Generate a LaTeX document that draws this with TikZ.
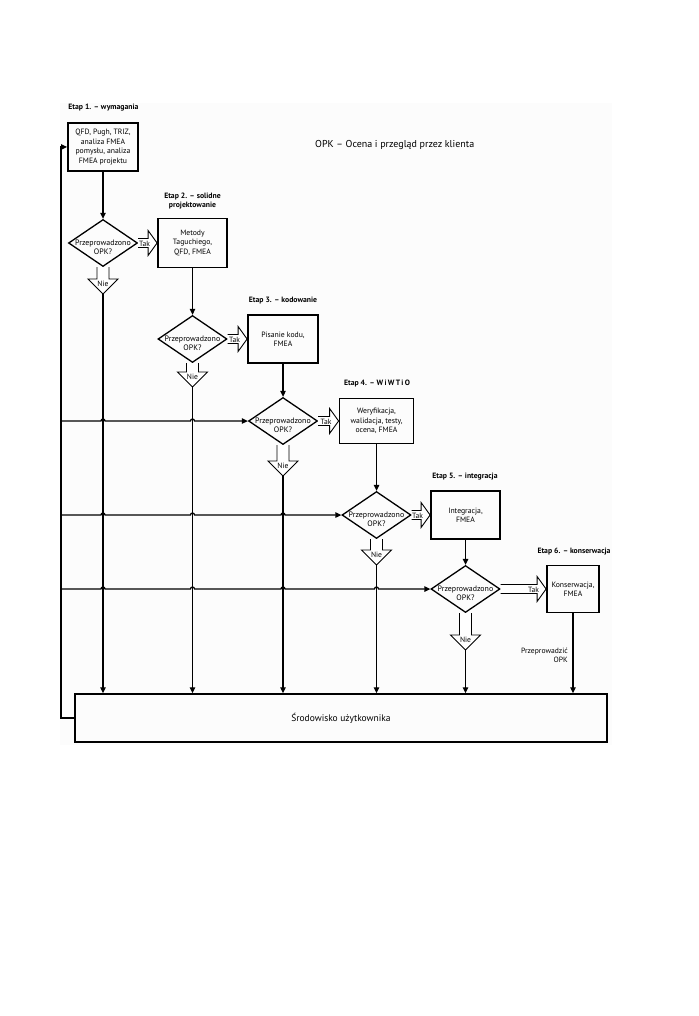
\documentclass[tikz,border=0pt]{standalone}
\usepackage{fontspec}
\setmainfont{PT Sans}
\usetikzlibrary{shapes.geometric,arrows.meta,calc}
\begin{document}
\begin{tikzpicture}[x=1pt,y=-1pt,
  box/.style={draw,line width=1.8pt,inner sep=0pt,align=center,font=\fontsize{7.7}{9.4}\selectfont},
  dia/.style={draw,diamond,line width=1.3pt,inner sep=0pt,minimum width=69pt,minimum height=47pt},
  dtext/.style={font=\fontsize{7.9}{9.2}\selectfont,align=center,inner sep=0pt},
  etap/.style={font=\bfseries\fontsize{7.7}{9.8}\selectfont,align=center,inner sep=0pt},
  conn/.style={line width=1.25pt,-{Triangle[length=6pt,width=5.5pt]}},
  blk/.style={draw,fill=white,line width=0.9pt,line join=miter},
  small/.style={font=\fontsize{7.6}{9.6}\selectfont,inner sep=0pt}
]
\useasboundingbox (0,0) rectangle (698,1016);
\fill[gray!2] (60,103) rectangle (612,745);

% title
\node[font=\fontsize{10}{12}\selectfont,anchor=west,inner sep=0pt] (title) at (315,145) {OPK – Ocena i przegląd przez klienta};

% stage labels
\node[etap] (e1) at (103.5,108) {Etap 1. – wymagania};
\node[etap] (e2) at (192.5,201) {Etap 2. – solidne\\projektowanie};
\node[etap] (e3) at (283,300.5) {Etap 3. – kodowanie};
\node[etap] (e4) at (377,384) {Etap 4. – W\,i\,W\,T\,i\,O};
\node[etap] (e5) at (465,477) {Etap 5. – integracja};
\node[etap] (e6) at (574,552) {Etap 6. – konserwacja};

% boxes
\node[box,minimum width=70pt,minimum height=48pt] (b1) at (103,147) {QFD, Pugh, TRIZ,\\analiza FMEA\\pomysłu, analiza\\FMEA projektu};
\node[box,minimum width=69pt,minimum height=49pt] (b2) at (192.5,243) {Metody\\Taguchiego,\\QFD, FMEA};
\node[box,minimum width=70pt,minimum height=48pt] (b3) at (283,339) {Pisanie kodu,\\FMEA};
\node[box,minimum width=74pt,minimum height=45pt] (b4) at (376.5,421) {Weryfikacja,\\walidacja, testy,\\ocena, FMEA};
\node[box,minimum width=69pt,minimum height=48pt] (b5) at (465.5,515) {Integracja,\\FMEA};
\node[box,minimum width=52pt,minimum height=47pt] (b6) at (573,589) {Konserwacja,\\FMEA};
\node[draw,line width=1.5pt,inner sep=0pt,minimum width=532pt,minimum height=48pt,font=\fontsize{9.5}{11}\selectfont] (env) at (341,718) {Środowisko użytkownika};

% decisions
\foreach \n/\x/\y in {d1/103/243, d2/192.5/339, d3/283/421, d4/376.5/515, d5/465.5/589}{
  \node[dia] (\n) at (\x,\y) {};
  \node[dtext] (\n t) at ($(\n)+(0,4.5)$) {Przeprowadzono\\OPK?};
}

% Nie tips
\coordinate (n1) at (103,294);
\coordinate (n2) at (192.5,387);
\coordinate (n3) at (283,476);
\coordinate (n4) at (376.5,565);
\coordinate (n5) at (465.5,650);
\coordinate (lx) at (61,0);

% box -> decision
\foreach \b/\d in {b1/d1, b2/d2, b3/d3, b4/d4, b5/d5}{
  \draw[conn] (\b.south) -- (\d.north);
}

% Tak block arrows
\foreach \d/\b in {d1/b2, d2/b3, d3/b4, d4/b5, d5/b6}{
  \path[blk] ($(\d.east)+(0,-4.5)$) -- ($(\b.west)+(-9,-4.5)$) -- ($(\b.west)+(-9,-12.5)$) -- (\b.west)
     -- ($(\b.west)+(-9,12.5)$) -- ($(\b.west)+(-9,4.5)$) -- ($(\d.east)+(0,4.5)$);
  \node[small] (\d tak) at ($(\b.west)+(-12.5,0.5)$) {Tak};
}

% Nie block arrows and lines down
\foreach \d/\t in {d1/n1, d2/n2, d3/n3, d4/n4, d5/n5}{
  \draw[conn] (\t) -- (\t |- env.north);
  \path[blk] ($(\d.south)+(-6,0)$) -- ($(\t)+(-6,-15)$) -- ($(\t)+(-15,-15)$) -- (\t)
     -- ($(\t)+(15,-15)$) -- ($(\t)+(6,-15)$) -- ($(\d.south)+(6,0)$);
  \node[small] (\d nie) at ($(\t)+(0,-10.5)$) {Nie};
}

% conservation -> environment
\draw[conn] (b6.south) -- (b6.south |- env.north);
\node[small,align=right,anchor=east] (prz) at (568,655.5) {Przeprowadzić\\OPK};

% loop back to stage 1
\draw[conn] (env.west) -- (env.west -| lx) -- (b1.west -| lx) -- (b1.west);

% feedback lines with hops
\draw[conn] (d3.west -| lx)
  -- ($(d3.west -| n1)+(-2,0)$) arc[start angle=180,end angle=0,radius=2pt]
  -- ($(d3.west -| n2)+(-2,0)$) arc[start angle=180,end angle=0,radius=2pt]
  -- (d3.west);
\draw[conn] (d4.west -| lx)
  -- ($(d4.west -| n1)+(-2,0)$) arc[start angle=180,end angle=0,radius=2pt]
  -- ($(d4.west -| n2)+(-2,0)$) arc[start angle=180,end angle=0,radius=2pt]
  -- ($(d4.west -| n3)+(-2,0)$) arc[start angle=180,end angle=0,radius=2pt]
  -- (d4.west);
\draw[conn] (d5.west -| lx)
  -- ($(d5.west -| n1)+(-2,0)$) arc[start angle=180,end angle=0,radius=2pt]
  -- ($(d5.west -| n2)+(-2,0)$) arc[start angle=180,end angle=0,radius=2pt]
  -- ($(d5.west -| n3)+(-2,0)$) arc[start angle=180,end angle=0,radius=2pt]
  -- ($(d5.west -| n4)+(-2,0)$) arc[start angle=180,end angle=0,radius=2pt]
  -- (d5.west);
\end{tikzpicture}
\end{document}
